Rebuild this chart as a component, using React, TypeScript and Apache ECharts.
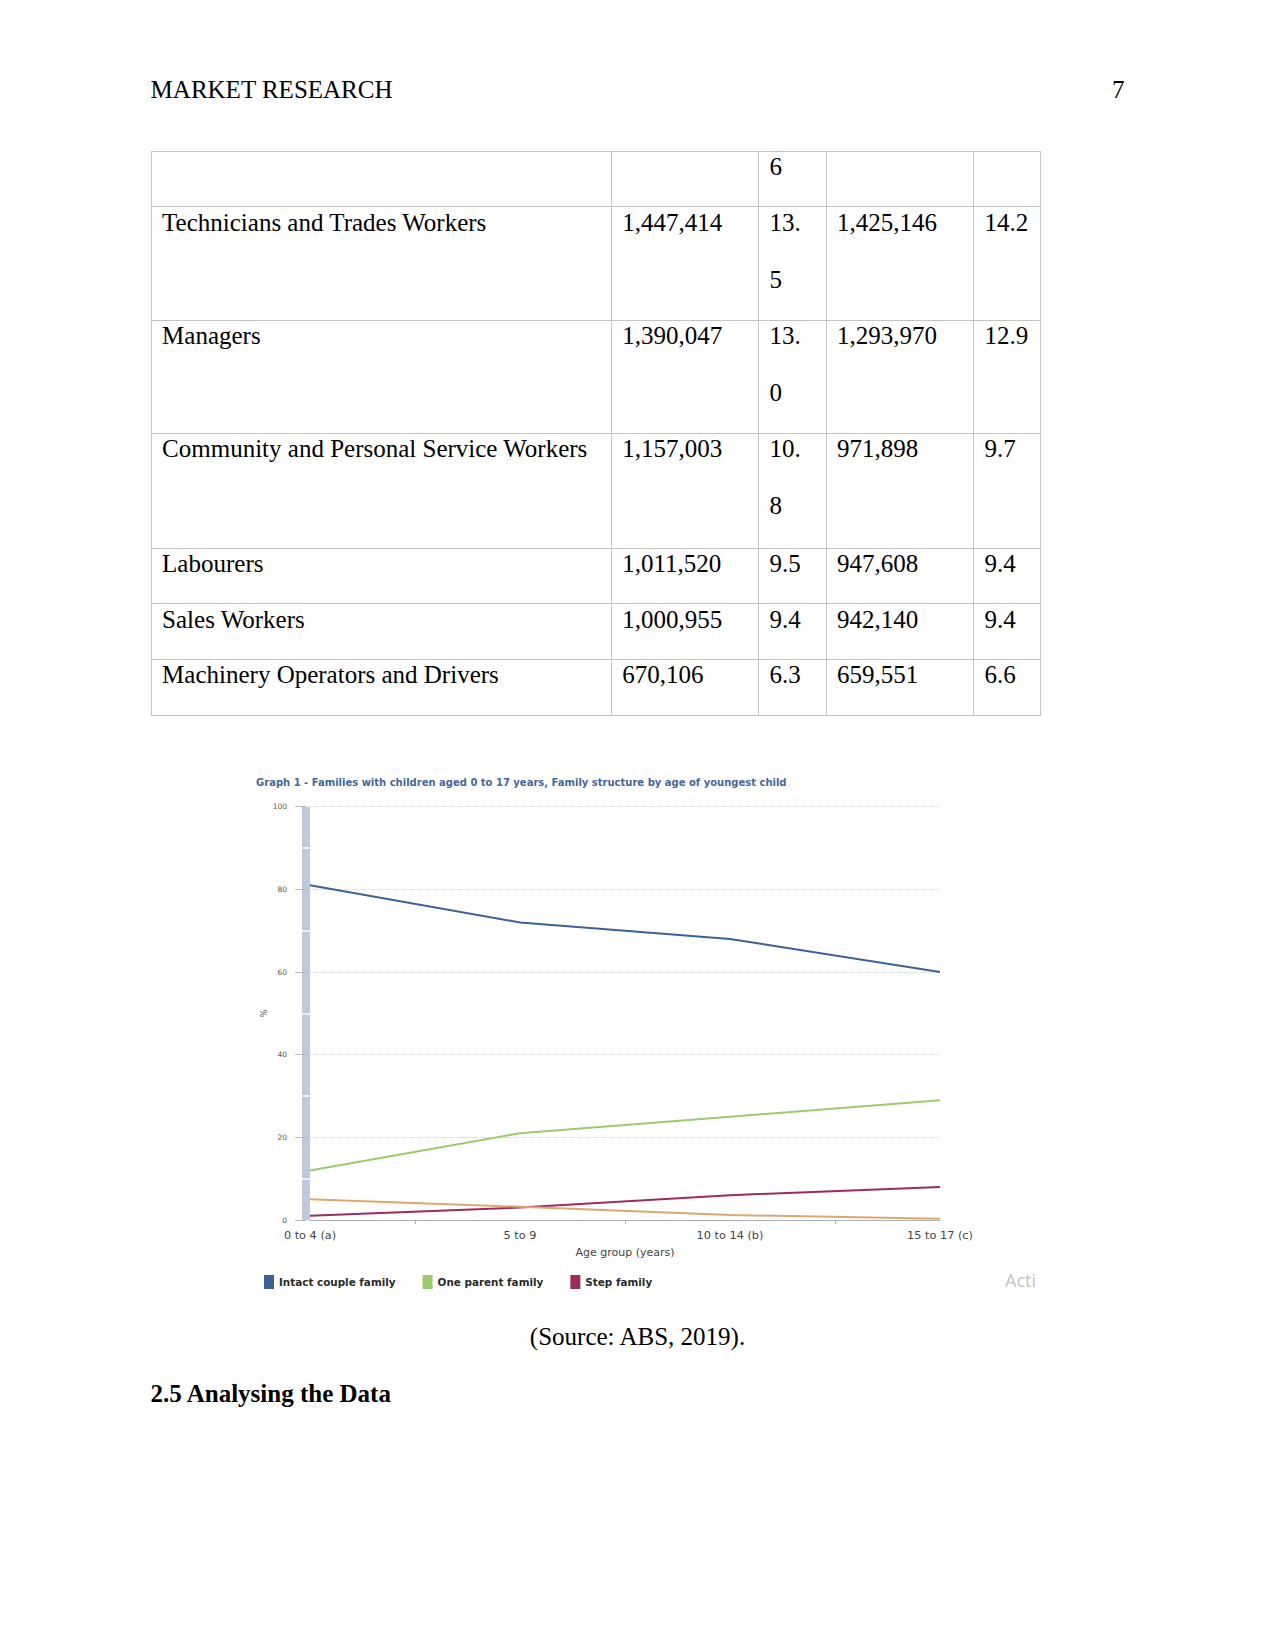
import React, { useEffect, useRef } from "react";
import * as echarts from "echarts";

// ---------- chart data ----------
const chartTitle =
  "Graph 1 - Families with children aged 0 to 17 years, Family structure by age of youngest child";
const ageGroups = ["0 to 4 (a)", "5 to 9", "10 to 14 (b)", "15 to 17 (c)"];
const intactCouple = [81, 72, 68, 60];
const oneParent = [12, 21, 25, 29];
const stepFamily = [1, 3, 6, 8];
const blendedFamily = [5, 3.2, 1.2, 0.3];
const yMin = 0;
const yMax = 100;
const yInterval = 20;

// ---------- table data ----------
const occupations = [
  "",
  "Technicians and Trades Workers",
  "Managers",
  "Community and Personal Service Workers",
  "Labourers",
  "Sales Workers",
  "Machinery Operators and Drivers",
];
const count2016 = ["", "1,447,414", "1,390,047", "1,157,003", "1,011,520", "1,000,955", "670,106"];
const pct2016 = ["6", "13.\n5", "13.\n0", "10.\n8", "9.5", "9.4", "6.3"];
const count2011 = ["", "1,425,146", "1,293,970", "971,898", "947,608", "942,140", "659,551"];
const pct2011 = ["", "14.2", "12.9", "9.7", "9.4", "9.4", "6.6"];

const rowEdges = [150.6, 206.4, 320.1, 432.7, 547.5, 603.3, 659.1, 714.9];
const colEdges = [150.6, 610.7, 758.1, 825.5, 972.9, 1040.3];

const FAMILY_COLORS = ["#3a6296", "#9bcb6e", "#9b2c5c", "#dea673"];

function Chart() {
  const ref = useRef<HTMLDivElement>(null);
  useEffect(() => {
    if (!ref.current) return;
    const chart = echarts.init(ref.current, null, { renderer: "svg" });
    const toPts = (arr: number[]) => arr.map((v, i) => [i, v]);
    chart.setOption({
      animation: false,
      textStyle: { fontFamily: "DejaVu Sans" },
      title: {
        text: chartTitle,
        left: 11,
        top: 12,
        textStyle: { fontSize: 10, fontWeight: "bold", color: "#42679a", fontFamily: "DejaVu Sans" },
      },
      legend: {
        data: ["Intact couple family", "One parent family", "Step family"],
        left: 19,
        top: 510,
        icon: "rect",
        itemWidth: 10,
        itemHeight: 14,
        itemGap: 27,
        textStyle: { fontSize: 10.4, fontWeight: "bold", color: "#2a2a2a", fontFamily: "DejaVu Sans" },
      },
      grid: { left: 70, right: 100, top: 46.7, bottom: 100, containLabel: false },
      xAxis: {
        type: "value",
        min: 0,
        max: ageGroups.length - 1,
        interval: 1,
        name: "Age group (years)",
        nameLocation: "middle",
        nameGap: 27,
        nameMoveOverlap: false,
        nameTextStyle: { fontSize: 11, color: "#444", fontFamily: "DejaVu Sans" },
        axisLine: { show: true, onZero: false, lineStyle: { color: "#b0b0b0", width: 1 } },
        axisTick: { show: false },
        minorTick: { show: true, splitNumber: 2, length: 4, lineStyle: { color: "#b0b0b0", width: 1 } },
        splitLine: { show: false },
        minorSplitLine: { show: false },
        axisLabel: {
          margin: 10,
          fontSize: 11.3,
          color: "#444",
          fontFamily: "DejaVu Sans",
          formatter: (v: number) => ageGroups[Math.round(v)] ?? "",
        },
      },
      yAxis: [
        {
          type: "value",
          min: yMin,
          max: yMax,
          interval: yInterval,
          position: "left",
          offset: 4,
          name: "%",
          nameLocation: "middle",
          nameGap: 38,
          nameMoveOverlap: false,
          nameTextStyle: { fontSize: 8, color: "#555" },
          axisLine: { show: true, onZero: false, lineStyle: { color: "#bccadb", width: 8, cap: "butt" } },
          axisTick: { show: true, length: 11, lineStyle: { color: "#b8b8b8", width: 1 } },
          axisLabel: { margin: 19, fontSize: 7.5, color: "#555" },
          splitLine: { show: true, lineStyle: { color: "#d4d4d4", type: "dotted", width: 1 } },
        },
        {
          type: "value",
          min: yMin,
          max: yMax,
          interval: yInterval,
          position: "left",
          offset: 0,
          z: 3,
          axisLine: { show: false, onZero: false },
          axisTick: { show: false },
          axisLabel: { show: false },
          splitLine: { show: false },
          minorTick: { show: true, splitNumber: 2, length: 8, lineStyle: { color: "#ffffff", width: 1.5 } },
        },
      ],
      series: [
        {
          name: "Intact couple family",
          type: "line",
          data: toPts(intactCouple),
          showSymbol: false,
          lineStyle: { width: 2, color: FAMILY_COLORS[0] },
          itemStyle: { color: FAMILY_COLORS[0] },
        },
        {
          name: "One parent family",
          type: "line",
          data: toPts(oneParent),
          showSymbol: false,
          lineStyle: { width: 2, color: FAMILY_COLORS[1] },
          itemStyle: { color: FAMILY_COLORS[1] },
        },
        {
          name: "Step family",
          type: "line",
          data: toPts(stepFamily),
          showSymbol: false,
          lineStyle: { width: 2, color: FAMILY_COLORS[2] },
          itemStyle: { color: FAMILY_COLORS[2] },
        },
        {
          name: "Blended family",
          type: "line",
          data: toPts(blendedFamily),
          showSymbol: false,
          lineStyle: { width: 2, color: FAMILY_COLORS[3] },
          itemStyle: { color: FAMILY_COLORS[3] },
        },
      ],
    });
    return () => chart.dispose();
  }, []);
  return (
    <div
      ref={ref}
      style={{ position: "absolute", left: 240, top: 760, width: 800, height: 560 }}
    />
  );
}

function Table() {
  const cols = [occupations, count2016, pct2016, count2011, pct2011];
  const cells: React.ReactNode[] = [];
  for (let r = 0; r < occupations.length; r++) {
    for (let c = 0; c < cols.length; c++) {
      const t = cols[c][r];
      if (!t) continue;
      cells.push(
        <div
          key={`${r}-${c}`}
          style={{
            position: "absolute",
            left: colEdges[c] + 11.5,
            top: rowEdges[r] - 12.7,
            lineHeight: "57px",
            fontSize: 25,
            whiteSpace: "pre-line",
            color: "#000",
          }}
        >
          {t}
        </div>
      );
    }
  }
  const lines: React.ReactNode[] = [];
  rowEdges.forEach((y, i) =>
    lines.push(
      <div
        key={`h${i}`}
        style={{
          position: "absolute",
          left: colEdges[0],
          top: y,
          width: colEdges[colEdges.length - 1] - colEdges[0] + 1,
          height: 1,
          background: "#c4c4c4",
        }}
      />
    )
  );
  colEdges.forEach((x, i) =>
    lines.push(
      <div
        key={`v${i}`}
        style={{
          position: "absolute",
          left: x,
          top: rowEdges[0],
          width: 1,
          height: rowEdges[rowEdges.length - 1] - rowEdges[0] + 1,
          background: "#c4c4c4",
        }}
      />
    )
  );
  return (
    <>
      {lines}
      {cells}
    </>
  );
}

export default function App() {
  return (
    <div
      style={{
        position: "absolute",
        left: 0,
        top: 0,
        width: 1275,
        height: 1651,
        background: "#fff",
        fontFamily: "'Liberation Serif', 'Times New Roman', serif",
        color: "#000",
        overflow: "hidden",
      }}
    >
      <div style={{ position: "absolute", left: 150.6, top: 74.5, fontSize: 25, lineHeight: "30px" }}>
        MARKET RESEARCH
      </div>
      <div
        style={{
          position: "absolute",
          right: 1275 - 1124.5,
          top: 74.5,
          fontSize: 25,
          lineHeight: "30px",
        }}
      >
        7
      </div>
      <Table />
      <Chart />
      <div
        style={{
          position: "absolute",
          left: 1005,
          top: 1268,
          fontSize: 18,
          lineHeight: "24px",
          color: "#c4c4c4",
          fontFamily: "'Open Sans', 'Noto Sans', sans-serif",
        }}
      >
        Acti
      </div>
      <div
        style={{
          position: "absolute",
          left: 0,
          width: 1275,
          textAlign: "center",
          top: 1322,
          fontSize: 25,
          lineHeight: "30px",
        }}
      >
        (Source: ABS, 2019).
      </div>
      <div
        style={{
          position: "absolute",
          left: 150.6,
          top: 1379,
          fontSize: 25,
          lineHeight: "30px",
          fontWeight: "bold",
        }}
      >
        2.5 Analysing the Data
      </div>
    </div>
  );
}
